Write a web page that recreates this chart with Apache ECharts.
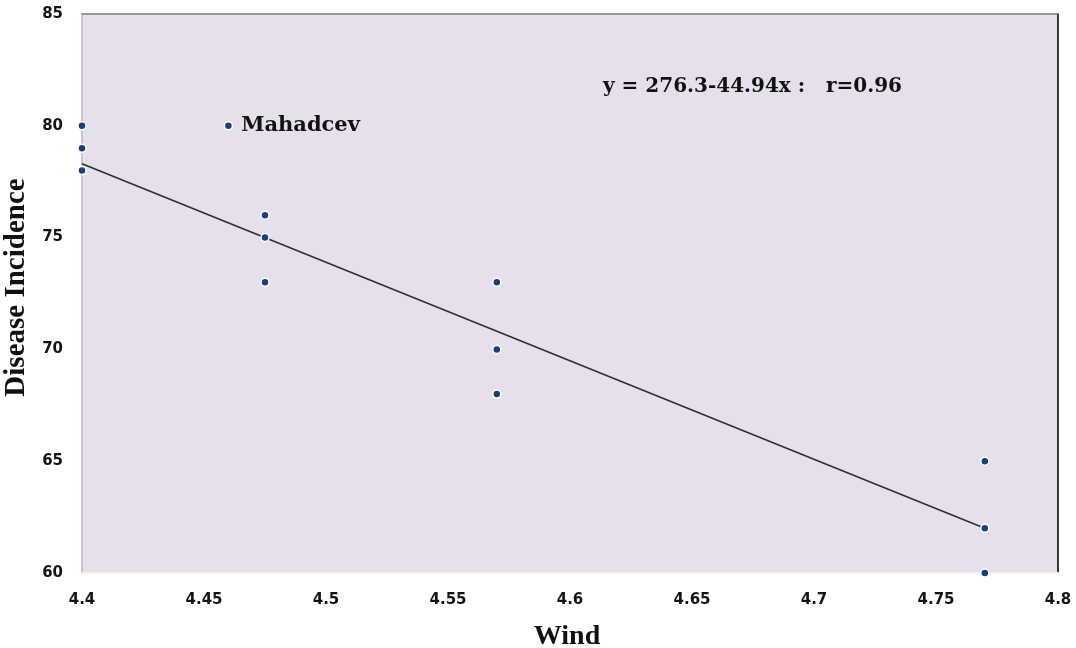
<!DOCTYPE html>
<html>
<head>
<meta charset="utf-8">
<script src="https://cdn.jsdelivr.net/npm/echarts@6/dist/echarts.min.js"></script>
<style>
html,body{margin:0;padding:0;background:#ffffff;overflow:hidden;}
#chart{width:1076px;height:648px;}
</style>
</head>
<body>
<div id="chart"></div>
<script>
// Observed data: Wind vs Disease Incidence
const windValues = [4.40, 4.40, 4.40, 4.475, 4.475, 4.475, 4.57, 4.57, 4.57, 4.77, 4.77, 4.77];
const incidenceValues = [80, 79, 78, 76, 75, 73, 73, 70, 68, 65, 62, 60];
// Labelled marker point
const markerPoint = [4.46, 80];
const markerLabel = 'Mahadcev';
// Regression line endpoints
const lineWind = [4.40, 4.77];
const lineIncidence = [78.3, 62.0];
const equationText = 'y = 276.3-44.94x :   r=0.96';
const xTicks = [4.4, 4.45, 4.5, 4.55, 4.6, 4.65, 4.7, 4.75, 4.8];
const yTicks = [60, 65, 70, 75, 80, 85];

const pts = windValues.map((w, i) => [w, incidenceValues[i]]);
const linePts = lineWind.map((w, i) => [w, lineIncidence[i]]);

const tickFont = {fontFamily: 'DejaVu Sans', fontWeight: 'bold', fontSize: 15, color: '#141414'};
const el = document.getElementById('chart');
const chart = echarts.init(el, null, {renderer: 'canvas'});
chart.setOption({
  animation: false,
  backgroundColor: '#ffffff',
  grid: {left: 82, right: 18, top: 14, bottom: 75, show: true, backgroundColor: '#E5E0EC', borderWidth: 0,
         containLabel: false, outerBoundsMode: 'none'},
  title: {
    text: equationText, left: 603, top: 77, padding: 0,
    textStyle: {fontFamily: 'DejaVu Serif', fontWeight: 'bold', fontSize: 20, color: '#111'}
  },
  xAxis: [{
    type: 'value', min: 4.4, max: 4.8, interval: 0.05,
    name: 'Wind', nameLocation: 'middle', nameGap: 50,
    nameTextStyle: {fontFamily: 'Liberation Serif', fontWeight: 'bold', fontSize: 28, color: '#111', padding: [0, 6, 0, 0]},
    axisLine: {show: true, onZero: false, lineStyle: {color: '#f4f2f7', width: 2}},
    axisTick: {show: false}, splitLine: {show: false},
    axisLabel: Object.assign({margin: 20, formatter: v => String(parseFloat(v.toFixed(2)))}, tickFont)
  }, {
    type: 'value', position: 'top', min: 4.4, max: 4.8,
    axisLine: {show: true, lineStyle: {color: '#7a7a7a', width: 1.5}},
    axisTick: {show: false}, axisLabel: {show: false}, splitLine: {show: false}
  }],
  yAxis: [{
    type: 'value', min: 60, max: 85, interval: 5,
    name: 'Disease Incidence', nameLocation: 'middle', nameGap: 38,
    nameTextStyle: {fontFamily: 'Liberation Serif', fontWeight: 'bold', fontSize: 29, color: '#111', padding: [0, 0, 0, 12]},
    axisLine: {show: true, onZero: false, lineStyle: {color: '#c9c4cf', width: 2}},
    axisTick: {show: false}, splitLine: {show: false},
    axisLabel: Object.assign({margin: 19}, tickFont)
  }, {
    type: 'value', position: 'right', min: 60, max: 85,
    axisLine: {show: true, lineStyle: {color: '#3a3a3a', width: 2}},
    axisTick: {show: false}, axisLabel: {show: false}, splitLine: {show: false}
  }],
  series: [{
    type: 'line', data: linePts, symbol: 'none', z: 2,
    lineStyle: {color: '#2e2e38', width: 1.6}
  }, {
    type: 'scatter', data: pts, symbolSize: 8, z: 3,
    itemStyle: {color: '#163f7e', borderColor: '#ffffff', borderWidth: 1.5, opacity: 1}
  }, {
    type: 'scatter', data: [markerPoint], symbolSize: 8, z: 3,
    itemStyle: {color: '#163f7e', borderColor: '#ffffff', borderWidth: 1.5, opacity: 1},
    label: {show: true, position: 'right', distance: 8, formatter: markerLabel,
      fontFamily: 'DejaVu Serif', fontWeight: 'bold', fontSize: 21, color: '#111'}
  }]
});
</script>
</body>
</html>
